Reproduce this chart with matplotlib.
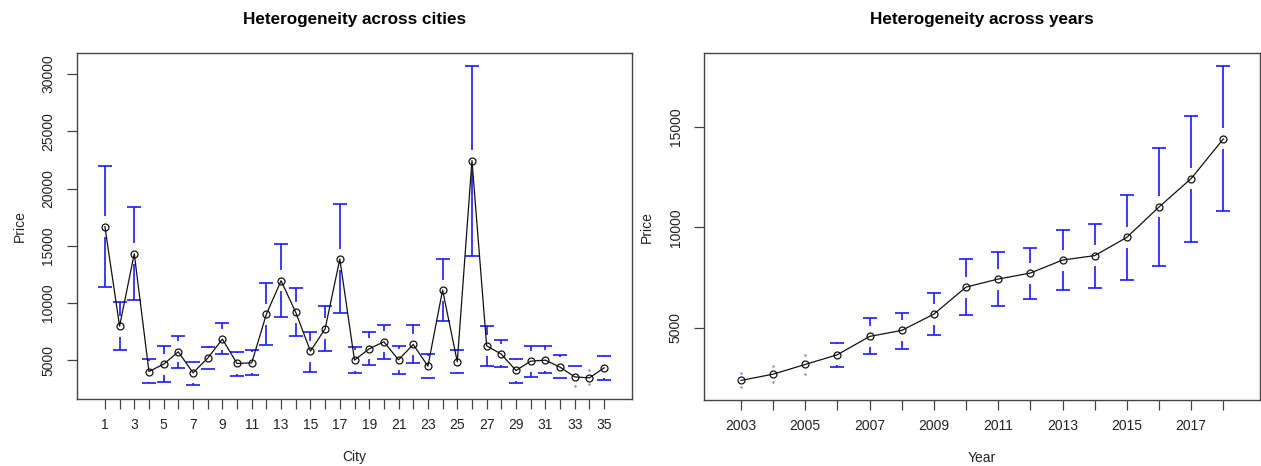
import matplotlib
matplotlib.use("Agg")
import matplotlib.pyplot as plt
import numpy as np

plt.rcParams['font.family'] = ['Liberation Sans', 'DejaVu Sans']

# ---------------- data ----------------
cities = list(range(1, 36))
city_mean = [16667, 7975, 14304, 4008, 4650, 5729, 3892, 5175, 6837, 4708,
             4767, 9025, 11942, 9171, 5787, 7741, 13838, 5000, 5992, 6604,
             5029, 6371, 4475, 11125, 4854, 22442, 6254, 5525, 4096, 4912,
             5000, 4387, 3538, 3452, 4329]
city_upper = [21946, 10104, 18417, 5087, 6196, 7071, 4854, 6167, 8208, 5671,
              5904, 11767, 15121, 11329, 7479, 9725, 18621, 6167, 7421, 8033,
              6225, 8033, 5554, 13808, 5846, 30725, 7975, 6750, 5058, 6254,
              6254, 5408, 4475, 4125, 5350]
city_lower = [11387, 5846, 10279, 3046, 3133, 4329, 2812, 4212, 5496, 3658,
              3746, 6313, 8733, 7071, 4008, 5758, 9142, 3892, 4562, 5087,
              3775, 4708, 3483, 8441, 3892, 14071, 4475, 4417, 3046, 3571,
              3892, 3425, 2725, 2873, 3250]
city_ticklabels = [str(c) for c in range(1, 36, 2)]

years = list(range(2003, 2019))
year_mean = [2373, 2687, 3170, 3654, 4566, 4865, 5678, 7024, 7423, 7722,
             8370, 8589, 9502, 11012, 12428, 14402]
year_upper = [2757, 3086, 3654, 4252, 5479, 5728, 6710, 8405, 8769, 8988,
              9885, 10184, 11610, 13973, 15533, 18026]
year_lower = [2039, 2288, 2687, 3036, 3684, 3953, 4651, 5628, 6077, 6426,
              6859, 6994, 7393, 8071, 9252, 10812]
year_ticklabels = [str(y) for y in range(2003, 2019, 2)]

W, H = 1261, 466
fig = plt.figure(figsize=(W / 100, H / 100), dpi=100)

TXT = '#222222'
BOX = '#444444'
BLUE = '#1a1aff'


def panel(rect_px, x, mean, lo, hi, xticklabels, xlabel, title, yticks):
    l, t, r, b = rect_px
    ax = fig.add_axes([l / W, (H - b) / H, (r - l) / W, (b - t) / H])
    x = np.asarray(x, float)
    mean = np.asarray(mean, float)
    lo = np.asarray(lo, float)
    hi = np.asarray(hi, float)
    n = len(x)
    step = x[1] - x[0]
    x0, x1 = x[0] - 0.5 * step, x[-1] + 0.5 * step
    ext = 0.04 * (x1 - x0)
    ax.set_xlim(x0 - ext, x1 + ext)
    y0, y1 = lo.min(), hi.max()
    yext = 0.04 * (y1 - y0)
    ax.set_ylim(y0 - yext, y1 + yext)
    ax_h_px = b - t
    gap = 10.5 / ax_h_px * ((y1 + yext) - (y0 - yext))

    for xi, m, l_, h_ in zip(x, mean, lo, hi):
        if h_ > m + gap:
            ax.plot([xi, xi], [m + gap, h_], color=BLUE, lw=1.2, solid_capstyle='butt')
            ax.plot([xi], [h_], marker='_', ms=10.5, mew=1.2, color=BLUE)
        else:
            ax.plot([xi], [h_], marker='.', ms=1.6, color='#8888ff')
        if l_ < m - gap:
            ax.plot([xi, xi], [l_, m - gap], color=BLUE, lw=1.2, solid_capstyle='butt')
            ax.plot([xi], [l_], marker='_', ms=10.5, mew=1.2, color=BLUE)
        else:
            ax.plot([xi], [l_], marker='.', ms=1.6, color='#8888ff')

    ax.plot(x, mean, color='#111111', lw=0.9, zorder=3)
    ax.plot(x, mean, linestyle='none', marker='o', ms=5, mfc='none',
            mec='#111111', mew=0.9, zorder=4)

    ax.set_xticks(x)
    labs = []
    for i in range(n):
        labs.append(xticklabels[i // 2] if i % 2 == 0 else '')
    ax.set_xticklabels(labs)
    ax.set_yticks(yticks)
    ax.set_yticklabels([str(v) for v in yticks], rotation=90, va='center')
    ax.tick_params(axis='both', direction='out', length=7.5, width=0.9,
                   color=BOX, labelsize=10, labelcolor=TXT)
    ax.tick_params(axis='x', pad=6)
    ax.tick_params(axis='y', pad=8)
    for s in ax.spines.values():
        s.set_color(BOX)
        s.set_linewidth(1.0)
    ax.set_title(title, fontsize=12.3, fontweight='bold', color='black', pad=21)
    ax.set_xlabel(xlabel, fontsize=10, color=TXT, labelpad=13)
    ax.set_ylabel('Price', fontsize=10, color=TXT, labelpad=10.5)
    return ax


panel((77, 53, 632, 399), cities, city_mean, city_lower, city_upper,
      city_ticklabels, 'City', 'Heterogeneity across cities',
      [5000, 10000, 15000, 20000, 25000, 30000])
panel((704.3, 53.3, 1260, 400), years, year_mean, year_lower, year_upper,
      year_ticklabels, 'Year', 'Heterogeneity across years',
      [5000, 10000, 15000])

fig.savefig('out.png', dpi=100)
